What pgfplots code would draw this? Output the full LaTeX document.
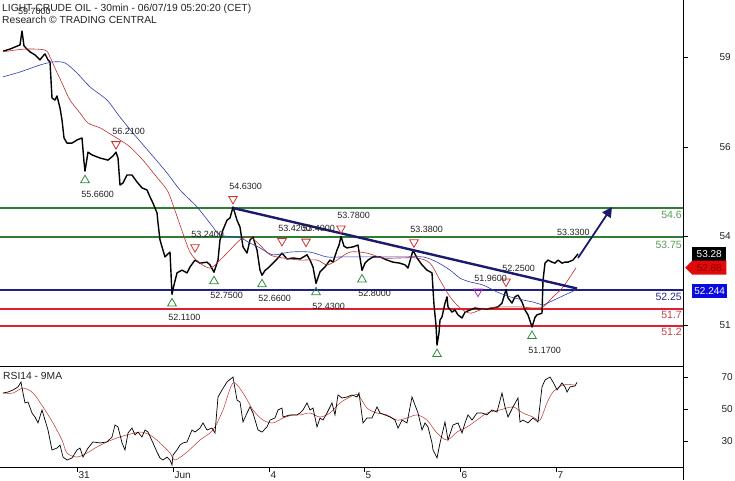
\documentclass[border=0pt]{standalone}
\usepackage{fontspec}
\setmainfont{Liberation Sans}
\usepackage{pgfplots}
\pgfplotsset{compat=1.18}
\usetikzlibrary{shapes.symbols,arrows.meta}
\definecolor{maRed}{HTML}{C0302A}
\definecolor{maBlue}{HTML}{2B3BB0}
\definecolor{lvGreen}{HTML}{2E7D32}
\definecolor{lvNavy}{HTML}{1F1F8F}
\definecolor{lvRed}{HTML}{E0202E}
\definecolor{trendNavy}{HTML}{1A1A6E}
\definecolor{triGreen}{HTML}{2E8B3A}
\definecolor{triRed}{HTML}{D03030}
\definecolor{triMag}{HTML}{B02AB0}
\definecolor{lblGreen}{HTML}{5A9A5A}
\definecolor{lblNavy}{HTML}{2A2A8A}
\definecolor{lblRed}{HTML}{C04050}
\definecolor{boxBlue}{HTML}{0A0AE0}
\definecolor{boxNavy}{HTML}{16167A}
\definecolor{boxRed}{HTML}{E00A0A}
\definecolor{txtDark}{HTML}{222222}
\begin{document}
\begin{tikzpicture}
\path[use as bounding box] (0pt,0pt) rectangle (735pt,-480pt);
\begin{axis}[
  at={(0pt,0pt)}, anchor=north west,
  scale only axis, width=683pt, height=363pt,
  xmin=0, xmax=683, ymin=50.133, ymax=60.594,
  hide x axis,
  axis y line*=right,
  y axis line style={draw=none},
  ytick={51.23,53.79,56.36,58.95}, yticklabels={51,54,56,59},
  tick align=outside, major tick length=5pt,
  tick style={black, line width=0.6pt},
  yticklabel style={anchor=west, xshift=28pt, font=\fontsize{10}{12}\selectfont, text=txtDark},
  clip mode=individual,
]
% price levels
\addplot[lvGreen, line width=2pt] coordinates {(0,54.6) (683,54.6)};
\addplot[lvGreen, line width=2pt] coordinates {(0,53.75) (683,53.75)};
\addplot[lvNavy, line width=2pt] coordinates {(0,52.25) (683,52.25)};
\addplot[lvRed, line width=2pt] coordinates {(0,51.7) (683,51.7)};
\addplot[lvRed, line width=2pt] coordinates {(0,51.2) (683,51.2)};
% price (close)
\addplot[black, line width=1.4pt, line join=round] coordinates {
(3,59.12)(10,59.18)(15,59.24)(20,59.30)(22,59.70)(24,59.27)(27,59.18)(30,59.10)(35,59.01)(40,58.87)(43,58.98)(45,59.04)(48,58.87)(50,58.81)(52,57.77)(55,57.71)(57,57.83)(60,57.48)(62,57.14)(64,56.62)(67,56.47)(72,56.47)(77,56.56)(82,56.62)(84,55.93)(85,55.66)(86,55.84)(88,56.21)(92,56.13)(100,56.04)(108,55.98)(113,56.10)(116,56.21)(118,56.04)(120,55.26)(123,55.32)(127,55.55)(132,55.55)(137,55.35)(142,55.18)(147,55.12)(150,54.92)(153,54.74)(157,54.46)(158,54.17)(160,53.68)(162,53.48)(165,53.19)(167,53.25)(170,53.33)(172,52.11)(174,52.38)(177,52.73)(182,52.81)(187,52.73)(190,52.90)(195,53.10)(200,53.01)(207,53.04)(210,52.96)(214,52.75)(218,53.10)(220,53.68)(223,53.97)(227,54.25)(230,54.31)(233,54.63)(237,54.25)(240,54.05)(243,53.48)(247,53.30)(250,53.68)(253,53.76)(257,53.39)(260,52.81)(262,52.66)(265,52.80)(268,52.87)(273,53.01)(278,53.16)(282,53.30)(287,53.13)(293,53.16)(300,53.13)(307,53.25)(310,53.10)(313,52.90)(316,52.43)(320,52.76)(325,52.90)(330,53.10)(333,53.04)(337,53.39)(339,53.53)(341,53.78)(344,53.50)(347,53.45)(353,53.48)(358,53.53)(362,52.80)(365,53.01)(368,53.10)(373,53.19)(380,53.19)(387,53.10)(393,53.04)(400,53.01)(405,52.96)(408,52.87)(413,53.38)(417,53.16)(422,52.96)(427,52.81)(432,52.73)(434,51.80)(436,51.23)(437,50.65)(439,51.00)(440,51.37)(442,51.46)(445,51.86)(447,52.04)(448,51.75)(452,51.60)(455,51.66)(458,51.52)(462,51.43)(465,51.60)(470,51.66)(475,51.72)(480,51.69)(487,51.69)(493,51.72)(498,51.75)(502,51.86)(506,52.25)(508,52.01)(512,51.86)(515,52.04)(518,52.09)(522,51.89)(525,51.66)(528,51.52)(532,51.17)(535,51.45)(537,51.52)(542,51.57)(543,52.52)(545,53.01)(548,53.10)(552,53.04)(555,53.01)(558,53.10)(562,53.01)(565,53.04)(568,53.04)(573,53.10)(578,53.28)};
% red MA
\addplot[maRed, line width=0.6pt, smooth] coordinates {
(3,59.10)(25,59.18)(45,59.15)(50,58.95)(55,58.63)(62,58.20)(70,57.71)(80,57.34)(88,57.05)(100,56.91)(112,56.70)(120,56.56)(130,56.36)(143,55.98)(155,55.55)(167,55.12)(173,54.69)(180,54.11)(190,53.33)(200,53.01)(210,52.87)(218,53.04)(230,53.39)(240,53.68)(250,53.76)(260,53.53)(270,53.25)(283,53.16)(300,53.10)(317,53.10)(327,52.96)(337,53.10)(350,53.33)(367,53.30)(383,53.16)(400,53.16)(417,53.16)(430,53.01)(440,52.52)(450,52.04)(460,51.72)(470,51.57)(480,51.66)(490,51.72)(500,51.75)(510,51.75)(520,51.75)(533,51.72)(543,51.75)(553,52.04)(563,52.32)(576,52.88)};
% blue MA
\addplot[maBlue, line width=0.6pt, smooth] coordinates {
(3,58.38)(20,58.52)(40,58.72)(53,58.81)(65,58.78)(77,58.49)(90,58.09)(107,57.71)(120,57.22)(133,56.76)(150,56.19)(167,55.61)(180,55.12)(197,54.63)(213,54.05)(220,53.82)(240,53.74)(250,53.59)(260,53.45)(273,53.25)(290,53.33)(310,53.33)(327,53.19)(343,53.19)(367,53.19)(383,53.19)(403,53.19)(423,53.19)(437,53.04)(450,52.81)(460,52.58)(470,52.47)(483,52.38)(497,52.18)(510,52.04)(523,51.95)(533,51.89)(543,51.80)};
\addplot[maBlue, line width=0.6pt] coordinates {(543,51.80)(576,52.244)};
% trendline and projection arrow
\addplot[trendNavy, line width=2.4pt] coordinates {(233,54.60) (577,52.28)};
\addplot[trendNavy, line width=1.8pt, -{Triangle[length=10pt,width=10pt]}] coordinates {(578,53.16) (612,54.63)};
% swing lows
\addplot[only marks, mark=triangle, mark size=5pt,
  mark options={triGreen, line width=0.8pt, yshift=-9pt},
  point meta=explicit symbolic, nodes near coords,
  every node near coord/.append style={anchor=west, xshift=-4pt, yshift=-14pt, inner sep=0pt, text=txtDark, font=\fontsize{9}{10}\selectfont}]
  table[meta=label] {
x y label
85 55.66 55.6600
172 52.11 52.1100
214 52.75 52.7500
262 52.66 52.6600
316 52.43 52.4300
362 52.80 52.8000
532 51.17 51.1700
};
\addplot[only marks, mark=triangle, mark size=5pt,
  mark options={triGreen, line width=0.8pt, yshift=-9pt}] coordinates {(437,50.65)};
% swing highs
\addplot[only marks, mark=triangle, mark size=5pt,
  mark options={triRed, line width=0.8pt, rotate=180, yshift=-8pt},
  point meta=explicit symbolic, nodes near coords,
  every node near coord/.append style={anchor=west, xshift=-4pt, yshift=13pt, inner sep=0pt, text=txtDark, font=\fontsize{9}{10}\selectfont}]
  table[meta=label] {
x y label
116 56.21 56.2100
195 53.24 53.2400
233 54.63 54.6300
282 53.42 53.4200
306 53.40 53.4000
341 53.78 53.7800
414 53.38 53.3800
506 52.25 52.2500
};
\addplot[only marks, mark=triangle, mark size=5pt,
  mark options={triMag, fill=triMag!35, line width=0.8pt, rotate=180, yshift=-8pt},
  point meta=explicit symbolic, nodes near coords,
  every node near coord/.append style={anchor=west, xshift=-4pt, yshift=13pt, inner sep=0pt, text=txtDark, font=\fontsize{9}{10}\selectfont}]
  table[meta=label] {
x y label
478 51.96 51.9600
};
\addplot[only marks, mark=none, draw=none,
  point meta=explicit symbolic, nodes near coords,
  every node near coord/.append style={anchor=west, xshift=-4pt, yshift=20pt, inner sep=0pt, text=txtDark, font=\fontsize{9}{10}\selectfont}]
  table[meta=label] {
x y label
22 59.70 59.7000
561 53.33 53.3300
};
% level labels
\node[anchor=north east, inner sep=0pt, xshift=-1pt, yshift=-3pt, text=lblGreen, font=\fontsize{10.5}{12}\selectfont] at (axis cs:683,54.6) {54.6};
\node[anchor=north east, inner sep=0pt, xshift=-1pt, yshift=-3pt, text=lblGreen, font=\fontsize{10.5}{12}\selectfont] at (axis cs:683,53.75) {53.75};
\node[anchor=north east, inner sep=0pt, xshift=-1pt, yshift=-3pt, text=lblNavy, font=\fontsize{10.5}{12}\selectfont] at (axis cs:683,52.25) {52.25};
\node[anchor=north east, inner sep=0pt, xshift=-1pt, yshift=-2pt, text=lblRed, font=\fontsize{10.5}{12}\selectfont] at (axis cs:683,51.7) {51.7};
\node[anchor=north east, inner sep=0pt, xshift=-1pt, yshift=-2pt, text=lblRed, font=\fontsize{10.5}{12}\selectfont] at (axis cs:683,51.2) {51.2};
% value boxes
\node[anchor=west, xshift=9pt, fill=black, text=white, minimum width=34pt, minimum height=14pt, inner sep=0pt, font=\fontsize{10}{11}\selectfont] at (axis cs:683,53.28) {53.28};
\node[signal, signal to=west, anchor=west, xshift=2pt, fill=boxRed, text=red!55!black, minimum width=41pt, minimum height=14pt, inner sep=0pt, font=\fontsize{10}{11}\selectfont] at (axis cs:683,52.88) {52.88};
\node[anchor=west, xshift=9pt, yshift=-1.5pt, fill=boxBlue, text=white, minimum width=35pt, minimum height=14pt, inner sep=0pt, font=\fontsize{10}{11}\selectfont] at (axis cs:683,52.244) {52.244};
\end{axis}
\begin{axis}[
  at={(0pt,-366pt)}, anchor=north west,
  scale only axis, width=683pt, height=101pt,
  xmin=0, xmax=683, ymin=13.75, ymax=76.875,
  axis x line*=box, axis y line*=right,
  x axis line style={-, line width=0.8pt},
  y axis line style={draw=none},
  xtick={77,173,269,364,460,556}, xticklabels={31,Jun,4,5,6,7},
  xtick pos=bottom,
  ytick={30,50,70},
  tick align=outside, major tick length=5pt,
  tick style={black, line width=0.6pt},
  /pgf/number format/assume math mode=true,
  xticklabel style={anchor=north west, xshift=-2pt, yshift=4pt, font=\fontsize{10}{12}\selectfont, text=txtDark},
  yticklabel style={anchor=west, xshift=30pt, font=\fontsize{10}{12}\selectfont, text=txtDark},
]
\addplot[maRed, line width=0.5pt, smooth] coordinates {
(3,60.0)(13,60.0)(23,63.1)(33,60.0)(43,51.3)(53,41.3)(62,30.6)(67,22.5)(77,20.0)(87,22.5)(97,26.3)(107,29.4)(117,31.9)(127,33.8)(140,35.6)(150,33.8)(160,28.8)(170,22.5)(175,18.1)(187,23.1)(200,30.6)(213,36.9)(223,49.4)(233,66.3)(243,60.0)(253,49.4)(263,43.1)(273,41.3)(283,44.4)(293,46.3)(300,46.3)(310,47.5)(320,45.0)(330,47.5)(340,53.8)(350,57.5)(358,58.8)(367,50.6)(377,47.5)(387,46.3)(397,43.1)(407,44.4)(417,46.3)(427,43.1)(437,35.0)(447,30.6)(457,35.6)(467,38.8)(477,43.1)(487,47.5)(500,49.4)(513,51.3)(523,47.5)(533,45.0)(540,43.1)(547,53.8)(553,60.6)(563,65.0)(575,65.0)};
\addplot[black, line width=0.7pt] coordinates {
(3,60.0)(8,60.6)(13,61.9)(18,63.8)(21,66.9)(23,60.0)(25,53.8)(28,54.4)(32,47.5)(35,45.0)(38,41.3)(42,49.4)(45,43.1)(48,36.9)(52,24.4)(57,25.6)(60,27.5)(63,20.0)(67,18.1)(72,19.4)(77,24.4)(80,25.6)(83,20.0)(88,25.6)(93,29.4)(100,28.8)(107,29.4)(112,32.5)(115,40.0)(118,38.8)(122,28.8)(125,24.4)(128,35.0)(132,38.1)(135,33.8)(138,35.6)(142,32.5)(145,36.9)(148,35.6)(153,28.8)(157,23.1)(160,19.4)(163,18.1)(167,20.0)(170,18.1)(172,15.0)(173,21.3)(177,24.4)(180,27.5)(183,28.8)(187,29.4)(192,36.9)(195,35.6)(200,38.1)(203,41.3)(207,36.9)(212,38.1)(215,35.0)(218,57.5)(222,61.9)(227,66.9)(233,70.0)(237,55.6)(240,54.4)(243,41.9)(247,47.5)(250,51.3)(253,47.5)(258,36.9)(262,35.6)(267,38.8)(270,43.1)(275,44.4)(278,49.4)(282,50.6)(283,45.0)(290,46.3)(297,46.3)(300,47.5)(303,49.4)(307,53.8)(310,49.4)(313,50.6)(317,38.8)(320,44.4)(323,43.1)(327,47.5)(332,53.8)(335,46.3)(338,58.8)(342,56.9)(347,57.5)(352,58.8)(357,57.5)(359,60.0)(363,41.3)(367,44.4)(372,44.4)(377,51.3)(380,47.5)(385,46.3)(390,45.0)(395,43.1)(398,38.1)(402,43.1)(407,41.3)(412,57.5)(415,52.5)(418,47.5)(422,36.9)(425,41.3)(428,38.8)(432,28.8)(433,24.4)(437,19.4)(440,28.8)(445,41.9)(448,30.6)(453,40.0)(458,41.3)(462,35.0)(465,41.3)(468,46.3)(472,43.1)(477,47.5)(482,47.5)(487,46.3)(492,49.4)(497,48.1)(502,60.0)(505,51.3)(508,45.0)(513,51.3)(518,56.9)(520,41.9)(523,43.1)(528,41.3)(533,44.4)(538,41.9)(542,63.8)(545,68.1)(550,70.0)(553,66.9)(557,61.9)(562,66.3)(565,63.8)(567,60.6)(570,63.8)(575,64.4)(577,66.66)};
\node[signal, signal to=west, anchor=west, xshift=2pt, yshift=-2pt, fill=boxNavy, text=white, minimum width=47pt, minimum height=14pt, inner sep=0pt, font=\fontsize{10}{11}\selectfont] at (axis cs:683,66.6571) {66.6571};
\node[anchor=west, xshift=9pt, fill=boxRed, text=red!55!black, minimum width=43pt, minimum height=14pt, inner sep=0pt, font=\fontsize{10}{11}\selectfont] at (axis cs:683,56.25) {65.2773};
\end{axis}
\draw[black, line width=0.8pt] (683pt,0pt) -- (683pt,-480pt);
\node[anchor=base west, inner sep=0pt, text=txtDark, font=\fontsize{10.3}{12}\selectfont] at (2pt,-11pt) {LIGHT CRUDE OIL - 30min - 06/07/19 05:20:20 (CET)};
\node[anchor=base west, inner sep=0pt, text=txtDark, font=\fontsize{10.3}{12}\selectfont] at (2pt,-23pt) {Research © TRADING CENTRAL};
\node[anchor=base west, inner sep=0pt, text=txtDark, font=\fontsize{10.3}{12}\selectfont] at (3pt,-379pt) {RSI14 - 9MA};
\end{tikzpicture}
\end{document}
